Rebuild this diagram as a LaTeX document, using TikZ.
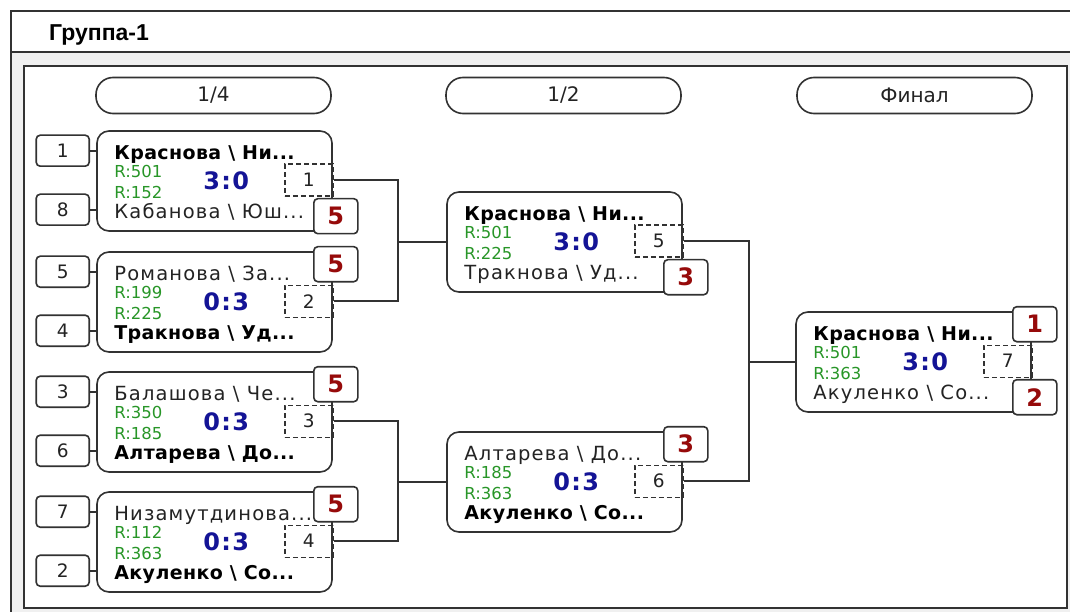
\documentclass[tikz,border=0pt]{standalone}
\usepackage{fontspec}
\setmainfont{DejaVu Sans}
\newfontfamily\hdrfont{Liberation Sans}
\newfontfamily\wide[LetterSpace=6]{DejaVu Sans}
\newfontfamily\wideb[LetterSpace=2]{DejaVu Sans}
\usetikzlibrary{calc}
\definecolor{lin}{RGB}{50,50,50}
\definecolor{bgg}{RGB}{240,240,240}
\definecolor{blu}{RGB}{20,20,150}
\definecolor{grn}{RGB}{40,150,40}
\definecolor{redp}{RGB}{150,10,10}
\definecolor{nm}{RGB}{35,35,35}
\tikzset{
  match/.style={draw=lin, line width=1.6pt, fill=white, rounded corners=12pt, minimum width=235pt, minimum height=100pt, inner sep=0pt},
  seed/.style={draw=lin, line width=1.6pt, fill=white, rounded corners=4pt, minimum width=53pt, minimum height=31pt, inner sep=0pt, text=nm, font=\fontsize{18.5}{20}\selectfont},
  pill/.style={draw=lin, line width=1.6pt, rounded corners=17pt, minimum width=235pt, minimum height=36pt, inner sep=0pt, text=nm, font=\fontsize{20}{20}\selectfont},
  dbox/.style={draw=lin, line width=1.4pt, dash pattern=on 5pt off 3pt, minimum width=48pt, minimum height=32pt, inner sep=0pt, text=nm, font=\fontsize{18.5}{20}\selectfont},
  place/.style={draw=lin, line width=1.6pt, fill=white, rounded corners=4pt, minimum width=44pt, minimum height=35pt, inner sep=0pt, text=redp, font=\bfseries\fontsize{24}{24}\selectfont},
  win/.style={anchor=base west, inner sep=0pt, text=black, font=\wideb\bfseries\fontsize{19}{20}\selectfont},
  lose/.style={anchor=base west, inner sep=0pt, text=nm, font=\wide\fontsize{19.5}{20}\selectfont},
  rate/.style={anchor=base west, inner sep=0pt, text=grn, font=\fontsize{16.5}{18}\selectfont},
  score/.style={anchor=base, inner sep=0pt, text=blu, font=\wide\bfseries\fontsize{24}{24}\selectfont},
  conn/.style={draw=lin, line width=1.7pt},
}
% match box: id, left, top
\newcommand\MBox[3]{%
  \node[match] (#1) at ({#2+117.5},{#3+50}) {};
}
\newcommand\MText[8]{% id, topstyle, topname, r1, r2, score, botstyle, botname
  \node[#2] (#1a) at ($(#1.north west)+(18,29)$) {#3};
  \node[rate] (#1r) at ($(#1.north west)+(18,47)$) {#4};
  \node[rate] (#1q) at ($(#1.north west)+(18,68)$) {#5};
  \node[score] (#1s) at ($(#1.north west)+(130,59)$) {#6};
  \node[#7] (#1b) at ($(#1.north west)+(18,88)$) {#8};
}
\newcommand\MDash[2]{\node[dbox] (#1d) at ($(#1.north east)+(-24,50)$) {#2};}
\newcommand\PlaceTop[3]{\node[place] (#1) at ($(#2.north east)+(3,13)$) {#3};}
\newcommand\PlaceBot[3]{\node[place] (#1) at ($(#2.north east)+(3,86)$) {#3};}
\newcommand\Seeds[3]{%
  \node[seed] (#1t) at ($(#1.north west)+(-33.5,20.5)$) {#2};
  \node[seed] (#1u) at ($(#1.north west)+(-33.5,79.5)$) {#3};
  \draw[conn] (#1t.east) -- (#1t.east -| #1.west);
  \draw[conn] (#1u.east) -- (#1u.east -| #1.west);
}
\newcommand\bs{\textbackslash{} }
\begin{document}
\begin{tikzpicture}[x=1pt,y=-1pt]
\useasboundingbox (0,0) rectangle (1070,612);
\clip (0,0) rectangle (1070,612);
% frames
\fill[white] (0,0) rectangle (1070,612);
\fill[bgg] (11,52) rectangle (1090,630);
\draw[lin, line width=2.2pt] (11,11) rectangle (1090,630);
\draw[lin, line width=2.2pt] (11,52) -- (1090,52);
\draw[lin, line width=2.2pt, fill=white] (24,66) rectangle (1067,608);
\node[anchor=base west, inner sep=0pt, font=\hdrfont\bfseries\fontsize{23}{24}\selectfont] (title) at (49,41) {Группа-1};
% round headers
\node[pill] (h1) at (213.5,95.5) {1/4};
\node[pill] (h2) at (563.5,95.5) {1/2};
\node[pill] (h3) at (914.5,95.5) {Финал};
% quarterfinals
\MBox{q1}{97}{131}
\MText{q1}{win}{Краснова \bs Ни...}{R:501}{R:152}{3:0}{lose}{Кабанова \bs Юш...}
\MDash{q1}{1}
\Seeds{q1}{1}{8}
\MBox{q2}{97}{252}
\MText{q2}{lose}{Романова \bs За...}{R:199}{R:225}{0:3}{win}{Тракнова \bs Уд...}
\MDash{q2}{2}
\Seeds{q2}{5}{4}
\MBox{q3}{97}{372}
\MText{q3}{lose}{Балашова \bs Че...}{R:350}{R:185}{0:3}{win}{Алтарева \bs До...}
\MDash{q3}{3}
\Seeds{q3}{3}{6}
\MBox{q4}{97}{492}
\MText{q4}{lose}{Низамутдинова...}{R:112}{R:363}{0:3}{win}{Акуленко \bs Со...}
\MDash{q4}{4}
\Seeds{q4}{7}{2}
% semifinals
\MBox{s1}{447}{192}
\MText{s1}{win}{Краснова \bs Ни...}{R:501}{R:225}{3:0}{lose}{Тракнова \bs Уд...}
\MDash{s1}{5}
\MBox{s2}{447}{432}
\MText{s2}{lose}{Алтарева \bs До...}{R:185}{R:363}{0:3}{win}{Акуленко \bs Со...}
\MDash{s2}{6}
% final
\MBox{f}{796}{312}
\MText{f}{win}{Краснова \bs Ни...}{R:501}{R:363}{3:0}{lose}{Акуленко \bs Со...}
\MDash{f}{7}
% places
\PlaceBot{p1}{q1}{5}
\PlaceTop{p2}{q2}{5}
\PlaceTop{p3}{q3}{5}
\PlaceTop{p4}{q4}{5}
\PlaceBot{p5}{s1}{3}
\PlaceTop{p6}{s2}{3}
\PlaceTop{p7}{f}{1}
\PlaceBot{p8}{f}{2}
% bracket connectors
\coordinate (j1) at (398,242);
\coordinate (j2) at (398,482);
\coordinate (j3) at (749,362);
\draw[conn] (q1d.east) -| (j1) |- (q2d.east);
\draw[conn] (j1) -- (j1 -| s1.west);
\draw[conn] (q3d.east) -| (j2) |- (q4d.east);
\draw[conn] (j2) -- (j2 -| s2.west);
\draw[conn] (s1d.east) -| (j3) |- (s2d.east);
\draw[conn] (j3) -- (j3 -| f.west);
\end{tikzpicture}
\end{document}
